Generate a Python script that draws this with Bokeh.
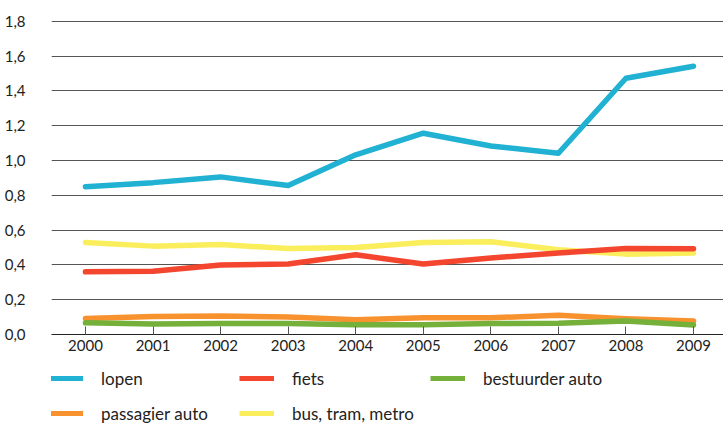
from bokeh.plotting import figure
from bokeh.models import Range1d, FixedTicker, Legend, LegendItem, ColumnDataSource
from bokeh.layouts import column
from bokeh.embed import file_html
from bokeh.resources import INLINE

years = [2000, 2001, 2002, 2003, 2004, 2005, 2006, 2007, 2008, 2009]
lopen = [0.85, 0.873, 0.906, 0.856, 1.033, 1.157, 1.084, 1.042, 1.473, 1.542]
fiets = [0.36, 0.364, 0.399, 0.405, 0.458, 0.405, 0.44, 0.468, 0.494, 0.493]
bestuurder_auto = [0.067, 0.06, 0.063, 0.063, 0.056, 0.056, 0.063, 0.065, 0.077, 0.054]
passagier_auto = [0.092, 0.103, 0.106, 0.10, 0.085, 0.096, 0.096, 0.111, 0.09, 0.077]
bus_tram_metro = [0.529, 0.508, 0.517, 0.494, 0.50, 0.529, 0.533, 0.487, 0.462, 0.468]

series_names = ["lopen", "fiets", "bestuurder auto", "passagier auto", "bus, tram, metro"]
series_values = [lopen, fiets, bestuurder_auto, passagier_auto, bus_tram_metro]
colors = ["#21b1d2", "#f4452f", "#74b03a", "#f7922f", "#fbee5c"]

y_ticks = [0.0, 0.2, 0.4, 0.6, 0.8, 1.0, 1.2, 1.4, 1.6, 1.8]
y_tick_labels = ["0,0", "0,2", "0,4", "0,6", "0,8", "1,0", "1,2", "1,4", "1,6", "1,8"]

FONT = "Lato"

# ---- main chart ----
p = figure(width=723, height=358, output_backend="svg", toolbar_location=None,
           x_range=Range1d(1999.497, 2009.444), y_range=Range1d(0, 1.805),
           min_border_left=51, min_border_right=0, min_border_top=20, min_border_bottom=24)
p.outline_line_color = None

order = [3, 2, 4, 1, 0]
for i in order:
    src = ColumnDataSource(dict(x=years, y=series_values[i]))
    p.line("x", "y", source=src, line_color=colors[i], line_width=5.5,
           line_cap="round", line_join="round")

p.xaxis.ticker = FixedTicker(ticks=years)
p.xaxis.axis_line_color = "#222222"
p.xaxis.axis_line_width = 1
p.xaxis.major_tick_in = 8
p.xaxis.major_tick_out = 0
p.xaxis.major_tick_line_color = "#555555"
p.xaxis.minor_tick_line_color = None
p.xaxis.major_label_standoff = 5
p.xaxis.major_label_text_font = FONT
p.xaxis.major_label_text_font_size = "15px"
p.xaxis.major_label_text_color = "#222222"

p.yaxis.ticker = FixedTicker(ticks=y_ticks)
p.yaxis.major_label_overrides = {t: l for t, l in zip(y_ticks, y_tick_labels)}
p.yaxis.axis_line_color = None
p.yaxis.major_tick_line_color = None
p.yaxis.minor_tick_line_color = None
p.yaxis.major_label_standoff = 20
p.yaxis.major_label_text_baseline = "alphabetic"
p.yaxis.major_label_text_font = FONT
p.yaxis.major_label_text_font_size = "15px"
p.yaxis.major_label_text_color = "#222222"

p.xgrid.grid_line_color = None
p.ygrid.ticker = FixedTicker(ticks=y_ticks[1:])
p.ygrid.grid_line_color = "#555555"
p.ygrid.grid_line_width = 1

# ---- legend strip (its frame is aligned with the chart frame by the column layout) ----
q = figure(width=723, height=66, output_backend="svg", toolbar_location=None,
           x_range=Range1d(0, 1), y_range=Range1d(0, 1),
           x_axis_location=None, y_axis_location=None,
           min_border_left=51, min_border_right=0, min_border_top=0, min_border_bottom=0)
q.outline_line_color = None
q.grid.visible = False

# legend swatch renderers (their data lies outside this strip's ranges, so only the swatches show)
swatches = []
for i in range(len(series_names)):
    swatches.append(q.line(x=years, y=series_values[i], line_color=colors[i],
                           line_width=5, line_cap="butt"))

legend_columns = [[0, 3], [1, 4], [2]]
col_x = [-3, 188, 379]
for c, idxs in enumerate(legend_columns):
    items = [LegendItem(label=series_names[i], renderers=[swatches[i]]) for i in idxs]
    lh = 22 * len(idxs) + 13 * (len(idxs) - 1)
    lg = Legend(items=items, location=(col_x[c], 66 - 9 - lh),
                glyph_width=35, glyph_height=22, label_height=22, label_width=20,
                label_standoff=18, spacing=13, padding=0, margin=0,
                border_line_color=None, background_fill_alpha=0,
                label_text_font=FONT, label_text_font_size="17px",
                label_text_color="#222222")
    q.add_layout(lg, "center")

layout = column(p, q, spacing=0)
open("out.html", "w").write(file_html(layout, INLINE))
